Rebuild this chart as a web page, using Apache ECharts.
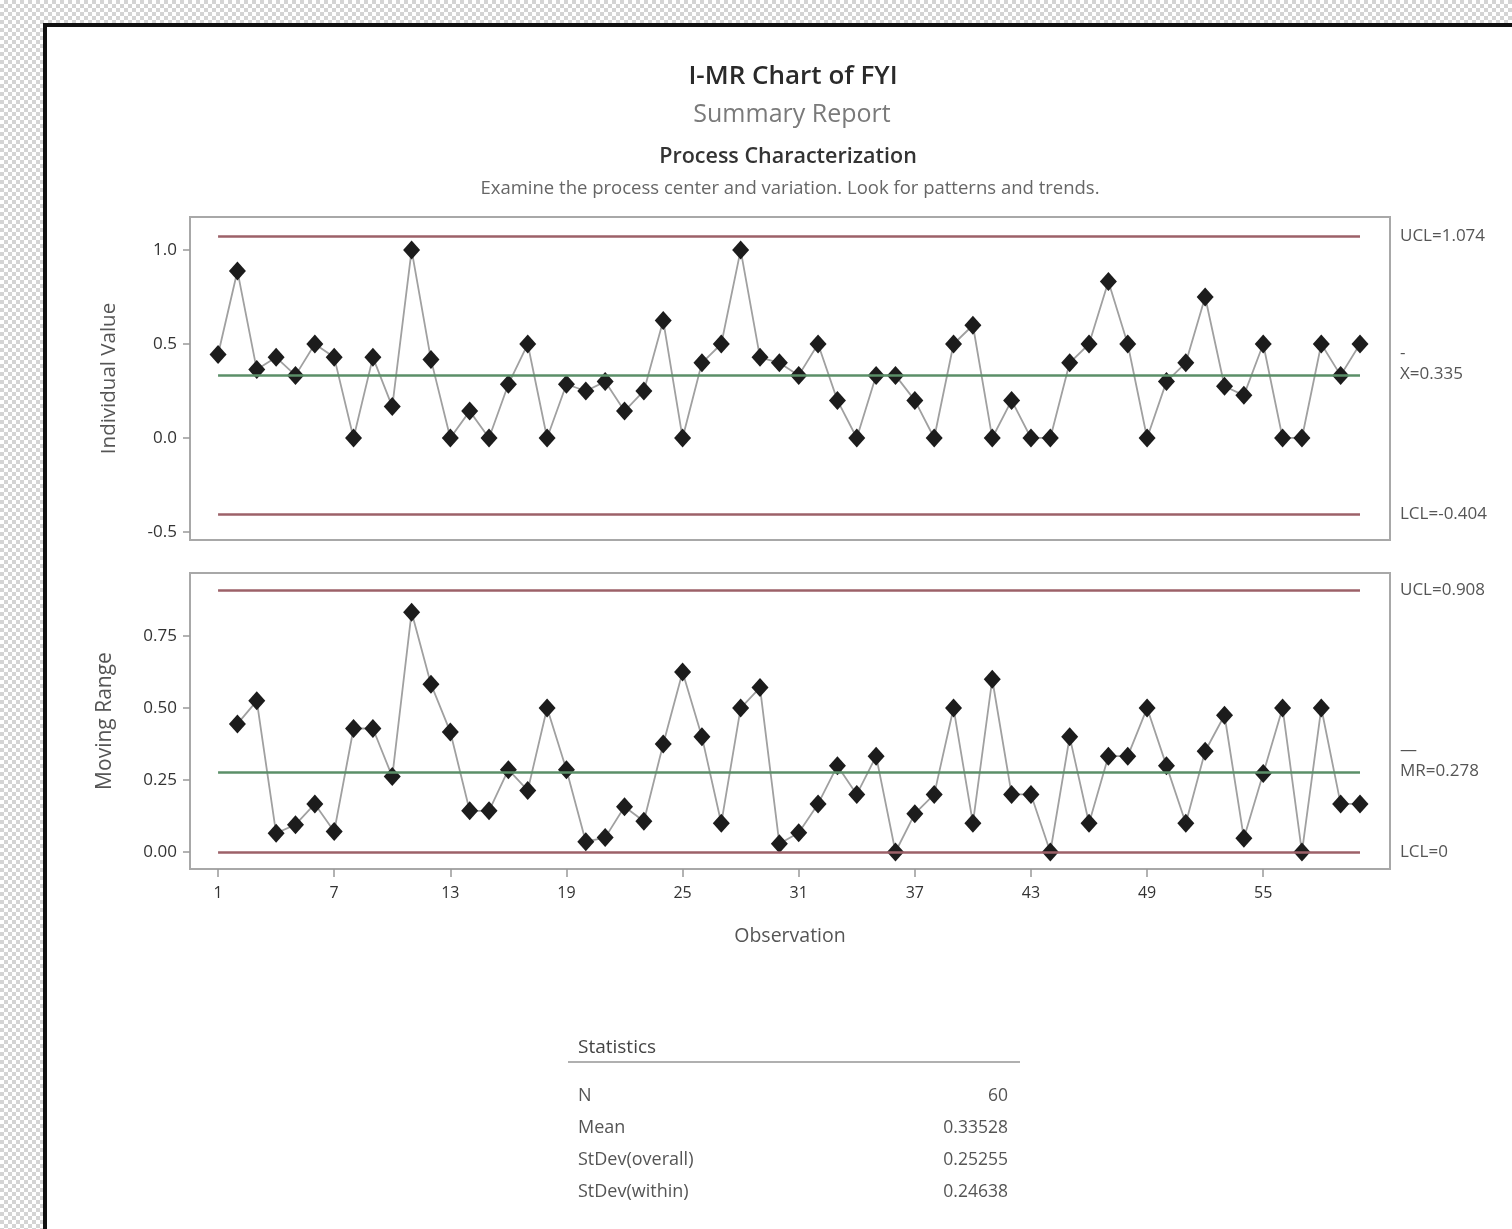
<!DOCTYPE html>
<html>
<head>
<meta charset="utf-8">
<title>I-MR Chart of FYI</title>
<script src="https://cdn.jsdelivr.net/npm/echarts@6/dist/echarts.min.js"></script>
<style>
  html, body { margin: 0; padding: 0; overflow: hidden; }
  body {
    width: 1512px; height: 1229px;
    background-color: #fff;
    background-image: conic-gradient(#d4d4d4 25%, #fff 0 50%, #d4d4d4 0 75%, #fff 0);
    background-size: 8px 8px;
  }
  #frame {
    position: absolute; left: 43px; top: 23px;
    width: 1520px; height: 1260px;
    border: 4px solid #111; background: #fff;
  }
  #main { position: absolute; left: 0; top: 0; width: 1512px; height: 1229px; }
</style>
</head>
<body>
<div id="frame"></div>
<div id="main"></div>
<script>
(function() {
  "use strict";

  // observation numbers
  var obsNum = [1,2,3,4,5,6,7,8,9,10,11,12,13,14,15,16,17,18,19,20,
                21,22,23,24,25,26,27,28,29,30,31,32,33,34,35,36,37,38,39,40,
                41,42,43,44,45,46,47,48,49,50,51,52,53,54,55,56,57,58,59,60];

  // individual values
  var indivValues = [0.444,0.889,0.364,0.429,0.333,0.5,0.429,0,0.429,0.167,
                     1.0,0.417,0,0.143,0,0.286,0.5,0,0.286,0.25,
                     0.3,0.143,0.25,0.625,0,0.4,0.5,1.0,0.429,0.4,
                     0.333,0.5,0.2,0,0.333,0.333,0.2,0,0.5,0.6,
                     0,0.2,0,0,0.4,0.5,0.833,0.5,0,0.3,
                     0.4,0.75,0.275,0.227,0.5,0,0,0.5,0.333,0.5];

  // moving ranges, observation 2..60
  var mrValues = [0.445,0.525,0.065,0.095,0.167,0.071,0.429,0.429,0.262,
                  0.833,0.583,0.417,0.143,0.143,0.286,0.214,0.5,0.286,0.036,
                  0.05,0.157,0.107,0.375,0.625,0.4,0.1,0.5,0.571,0.029,
                  0.067,0.167,0.3,0.2,0.333,0,0.133,0.2,0.5,0.1,
                  0.6,0.2,0.2,0,0.4,0.1,0.333,0.333,0.5,0.3,
                  0.1,0.35,0.475,0.048,0.273,0.5,0,0.5,0.167,0.167];

  // control limits [UCL, CL, LCL]
  var indivLimits = [1.074, 0.335, -0.404];
  var mrLimits = [0.908, 0.278, 0];
  var indivLimitLabels = ['UCL=1.074', '{bar|-}\n{t|X=0.335}', 'LCL=-0.404'];
  var mrLimitLabels = ['UCL=0.908', '{bar|\u2014}\n{t|MR=0.278}', 'LCL=0'];

  // tick labels
  var xTicks = [1,7,13,19,25,31,37,43,49,55];
  var indivTicks = [-0.5, 0, 0.5, 1.0];
  var mrTicks = [0, 0.25, 0.5, 0.75];

  // statistics table
  var statNames = ['N', 'Mean', 'StDev(overall)', 'StDev(within)'];
  var statValues = ['60', '0.33528', '0.25255', '0.24638'];

  var FONT = '"Open Sans", "Noto Sans", sans-serif';
  var RED = '#9c6168', GREEN = '#5b8f68';
  var LABEL_SIZE = 17;

  var limitStyles = [
    { color: RED, width: 2.5, type: 'solid' },
    { color: GREEN, width: 2.5, type: 'solid' },
    { color: RED, width: 2.5, type: 'solid' }
  ];

  function limitLines(limits, labels) {
    return limits.map(function(v, i) {
      var lbl = { formatter: labels[i] };
      if (i === 1) lbl.padding = [0, 0, 24, 0];
      return [
        { coord: [obsNum[0], v], lineStyle: limitStyles[i], label: lbl },
        { coord: [obsNum[obsNum.length - 1], v] }
      ];
    });
  }

  var labelRich = {
    bar: { fontSize: LABEL_SIZE, lineHeight: 22, color: '#555', fontFamily: FONT },
    t: { fontSize: LABEL_SIZE, lineHeight: 20, color: '#555', fontFamily: FONT }
  };

  var chart = echarts.init(document.getElementById('main'), null, { renderer: 'canvas' });

  var xAxisBase = {
    type: 'value', min: -0.45, max: 61.55,
    splitLine: { show: false },
    axisLine: { show: false, onZero: false }
  };

  var graphicEls = [
    { type: 'text', x: 793, y: 77, style: { text: 'I-MR Chart of FYI', font: '600 26px ' + FONT, fill: '#2a2a2a', align: 'center', verticalAlign: 'middle' } },
    { type: 'text', x: 792, y: 115, style: { text: 'Summary Report', font: '25px ' + FONT, fill: '#7a7a7a', align: 'center', verticalAlign: 'middle' } },
    { type: 'text', x: 788, y: 157, style: { text: 'Process Characterization', font: '600 21.5px ' + FONT, fill: '#333', align: 'center', verticalAlign: 'middle' } },
    { type: 'text', x: 790, y: 189, style: { text: 'Examine the process center and variation. Look for patterns and trends.', font: '18.5px ' + FONT, fill: '#666', align: 'center', verticalAlign: 'middle' } },
    { type: 'text', x: 578, y: 1048, style: { text: 'Statistics', font: '19px ' + FONT, fill: '#444', verticalAlign: 'middle' } },
    { type: 'line', shape: { x1: 568, y1: 1062, x2: 1020, y2: 1062 }, style: { stroke: '#b0b0b0', lineWidth: 2 } }
  ];
  statNames.forEach(function(name, i) {
    var y = 1096 + i * 32;
    graphicEls.push({ type: 'text', x: 578, y: y, style: { text: name, font: '18px ' + FONT, fill: '#555', verticalAlign: 'middle' } });
    graphicEls.push({ type: 'text', x: 1008, y: y, style: { text: statValues[i], font: '17.5px ' + FONT, fill: '#555', align: 'right', verticalAlign: 'middle' } });
  });

  var markLineLabel = {
    show: true, position: 'end', distance: 40,
    fontSize: LABEL_SIZE, color: '#555', fontFamily: FONT, rich: labelRich
  };

  var option = {
    animation: false,
    textStyle: { fontFamily: FONT },
    graphic: graphicEls,
    grid: [
      { left: 190, top: 217, width: 1200, height: 323, show: true, borderColor: '#a8a8a8', borderWidth: 2, backgroundColor: 'transparent' },
      { left: 190, top: 573, width: 1200, height: 296, show: true, borderColor: '#a8a8a8', borderWidth: 2, backgroundColor: 'transparent' }
    ],
    xAxis: [
      echarts.util.merge({
        gridIndex: 0,
        axisTick: { show: false },
        axisLabel: { show: false }
      }, xAxisBase, true),
      echarts.util.merge({
        gridIndex: 1,
        name: 'Observation', nameLocation: 'middle', nameGap: 57,
        nameTextStyle: { fontSize: 19.5, color: '#555', fontFamily: FONT },
        axisTick: { show: true, length: 8, lineStyle: { color: '#999', width: 1.5 }, customValues: xTicks },
        axisLabel: { show: true, margin: 16, fontSize: 16, color: '#333', customValues: xTicks }
      }, xAxisBase, true)
    ],
    yAxis: [
      {
        type: 'value', gridIndex: 0, min: -0.543, max: 1.176,
        name: 'Individual Value', nameLocation: 'middle', nameGap: 70,
        nameTextStyle: { fontSize: 20.5, color: '#555', fontFamily: FONT },
        splitLine: { show: false }, axisLine: { show: false, onZero: false },
        axisTick: { show: true, length: 7, lineStyle: { color: '#999', width: 1.5 }, customValues: indivTicks },
        axisLabel: { margin: 13, fontSize: 17, color: '#333', customValues: indivTicks,
          formatter: function(v) { return v.toFixed(1); } }
      },
      {
        type: 'value', gridIndex: 1, min: -0.059, max: 0.969,
        name: 'Moving Range', nameLocation: 'middle', nameGap: 74,
        nameTextStyle: { fontSize: 21, color: '#555', fontFamily: FONT },
        splitLine: { show: false }, axisLine: { show: false, onZero: false },
        axisTick: { show: true, length: 7, lineStyle: { color: '#999', width: 1.5 }, customValues: mrTicks },
        axisLabel: { margin: 13, fontSize: 17, color: '#333', customValues: mrTicks,
          formatter: function(v) { return v.toFixed(2); } }
      }
    ],
    series: [
      {
        type: 'line', xAxisIndex: 0, yAxisIndex: 0, z: 1, silent: true,
        data: [],
        markLine: {
          silent: true, symbol: 'none', animation: false,
          label: markLineLabel,
          data: limitLines(indivLimits, indivLimitLabels)
        }
      },
      {
        type: 'line', xAxisIndex: 0, yAxisIndex: 0, z: 3,
        data: indivValues.map(function(v, i) { return [obsNum[i], v]; }),
        symbol: 'diamond', symbolSize: [17, 19],
        itemStyle: { color: '#1c1c1c' },
        lineStyle: { color: '#a0a0a0', width: 1.8 }
      },
      {
        type: 'line', xAxisIndex: 1, yAxisIndex: 1, z: 1, silent: true,
        data: [],
        markLine: {
          silent: true, symbol: 'none', animation: false,
          label: markLineLabel,
          data: limitLines(mrLimits, mrLimitLabels)
        }
      },
      {
        type: 'line', xAxisIndex: 1, yAxisIndex: 1, z: 3,
        data: mrValues.map(function(v, i) { return [obsNum[i + 1], v]; }),
        symbol: 'diamond', symbolSize: [17, 19],
        itemStyle: { color: '#1c1c1c' },
        lineStyle: { color: '#a0a0a0', width: 1.8 }
      }
    ]
  };

  chart.setOption(option);
})();
</script>
</body>
</html>
